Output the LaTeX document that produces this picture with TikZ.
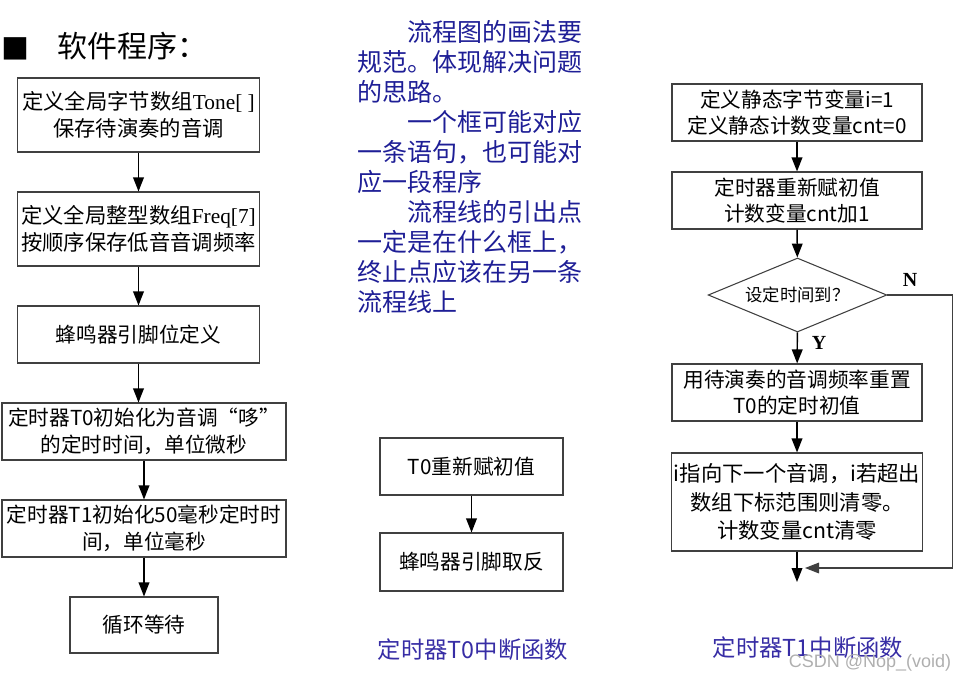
\documentclass[tikz,border=0pt]{standalone}
\usepackage{fontspec}
\newfontfamily\cjk{Noto Sans CJK SC}
\newfontfamily\lserif{Liberation Serif}
\newfontfamily\lsans{Liberation Sans}
\usetikzlibrary{arrows.meta,shapes.geometric}
\definecolor{boxline}{RGB}{64,64,64}
\definecolor{notecol}{RGB}{30,30,150}
\definecolor{capcol}{RGB}{55,45,165}
\definecolor{wmgray}{RGB}{175,175,175}
\tikzset{
	stepbox/.style={draw=boxline,line width=0.8pt,fill=white,align=center,inner sep=2pt,
		font=\cjk\fontsize{15.5}{20}\selectfont},
	serifbox/.style={stepbox,font=\cjk\fontsize{16}{20.25}\selectfont},
	decide/.style={diamond,draw=boxline,line width=0.8pt,fill=white,inner sep=0pt,shape aspect=2.4,
		minimum width=134pt,minimum height=55.5pt,font=\cjk\fontsize{13}{15}\selectfont},
	flow/.style={line width=1.1pt,-{Triangle[length=10.5pt,width=8pt]}},
	back/.style={draw=boxline,line width=0.8pt,-{Triangle[length=10.5pt,width=8pt]}},
	yn/.style={font=\lserif\bfseries\fontsize{15}{17}\selectfont},
	caption/.style={text=capcol,font=\cjk\fontsize{17.5}{20}\selectfont}
}
\begin{document}
\begin{tikzpicture}[x=0.75pt,y=-0.75pt]
	\useasboundingbox (0,0) rectangle (971,682);
	% title
	\node[inner sep=0pt,font=\cjk\fontsize{21}{24}\selectfont] (bullet) at (15.5,48.5) {■};
	\node[anchor=west,inner sep=0pt,font=\cjk\fontsize{22.5}{26}\selectfont] (title) at (57,46) {软件程序：};
	% main program
	\node[serifbox,minimum width=182pt,minimum height=55.5pt] (b1) at (138.5,115)
		{定义全局字节数组{\lserif Tone[ ]}\\保存待演奏的音调};
	\node[serifbox,minimum width=182pt,minimum height=55.5pt] (b2) at (138.5,229)
		{定义全局整型数组{\lserif Freq[7]}\\按顺序保存低音音调频率};
	\node[stepbox,minimum width=182pt,minimum height=42.75pt] (b3) at (138.5,334.5) {蜂鸣器引脚位定义};
	\node[stepbox,minimum width=213pt,minimum height=42.75pt] (b4) at (144,431.5)
		{定时器T0初始化为音调“哆”\\的定时时间，单位微秒};
	\node[stepbox,minimum width=213pt,minimum height=42.75pt] (b5) at (144,528.5)
		{定时器T1初始化50毫秒定时时\\间，单位毫秒};
	\node[stepbox,minimum width=111pt,minimum height=42pt] (b6) at (144,625) {循环等待};
	\draw[flow] (b1) -- (b2);
	\draw[flow] (b2) -- (b3);
	\draw[flow] (b3.south) -- (b3.south |- b4.north);
	\draw[flow] (b4) -- (b5);
	\draw[flow] (b5) -- (b6);
	% notes
	\node[anchor=north west,inner sep=0pt,align=left,text=notecol,
		font=\cjk\fontsize{18.75}{22.5}\selectfont] (notes) at (357,20)
		{\hspace*{2em}流程图的画法要\\
		规范。体现解决问题\\
		的思路。\\
		\hspace*{2em}一个框可能对应\\
		一条语句，也可能对\\
		应一段程序\\
		\hspace*{2em}流程线的引出点\\
		一定是在什么框上，\\
		终止点应该在另一条\\
		流程线上};
	% T0 interrupt
	\node[stepbox,minimum width=137.25pt,minimum height=42.75pt] (m1) at (471.5,466.5) {T0重新赋初值};
	\node[stepbox,minimum width=137.25pt,minimum height=43.5pt] (m2) at (471.5,562) {蜂鸣器引脚取反};
	\draw[flow] (m1) -- (m2);
	\node[caption] (cap0) at (473,650) {定时器T0中断函数};
	% T1 interrupt
	\node[stepbox,minimum width=187.5pt,minimum height=42.75pt] (r1) at (797,112.5)
		{定义静态字节变量i=1\\定义静态计数变量cnt=0};
	\node[stepbox,minimum width=187.5pt,minimum height=42.75pt] (r2) at (797,200.5)
		{定时器重新赋初值\\计数变量cnt加1};
	\node[decide] (dec) at (797.5,295) {设定时间到？};
	\node[stepbox,minimum width=187.5pt,minimum height=42.75pt] (r3) at (797,392.5)
		{用待演奏的音调频率重置\\T0的定时初值};
	\node[stepbox,minimum width=187.5pt,minimum height=73.5pt,
		font=\cjk\fontsize{16}{21.4}\selectfont] (r4) at (797,502)
		{i指向下一个音调，i若超出\\数组下标范围则清零。\\计数变量cnt清零};
	\coordinate (t1end) at (797,582);
	\coordinate (join) at (805,568);
	\draw[flow] (r1) -- (r2);
	\draw[flow] (r2) -- (dec);
	\draw[flow] (dec) -- (r3);
	\draw[flow] (r3) -- (r4);
	\draw[flow] (r4) -- (t1end);
	\draw[back] (dec.east) -- ++(65,0) |- (join);
	\node[yn] (ylab) at (819,343) {Y};
	\node[yn] (nlab) at (910,280) {N};
	\node[caption] (cap1) at (808,648) {定时器T1中断函数};
	% watermark
	\node[text=wmgray,font=\lsans\fontsize{13.5}{15}\selectfont] (wm) at (870,663) {CSDN @Nop\_(void)};
\end{tikzpicture}
\end{document}
